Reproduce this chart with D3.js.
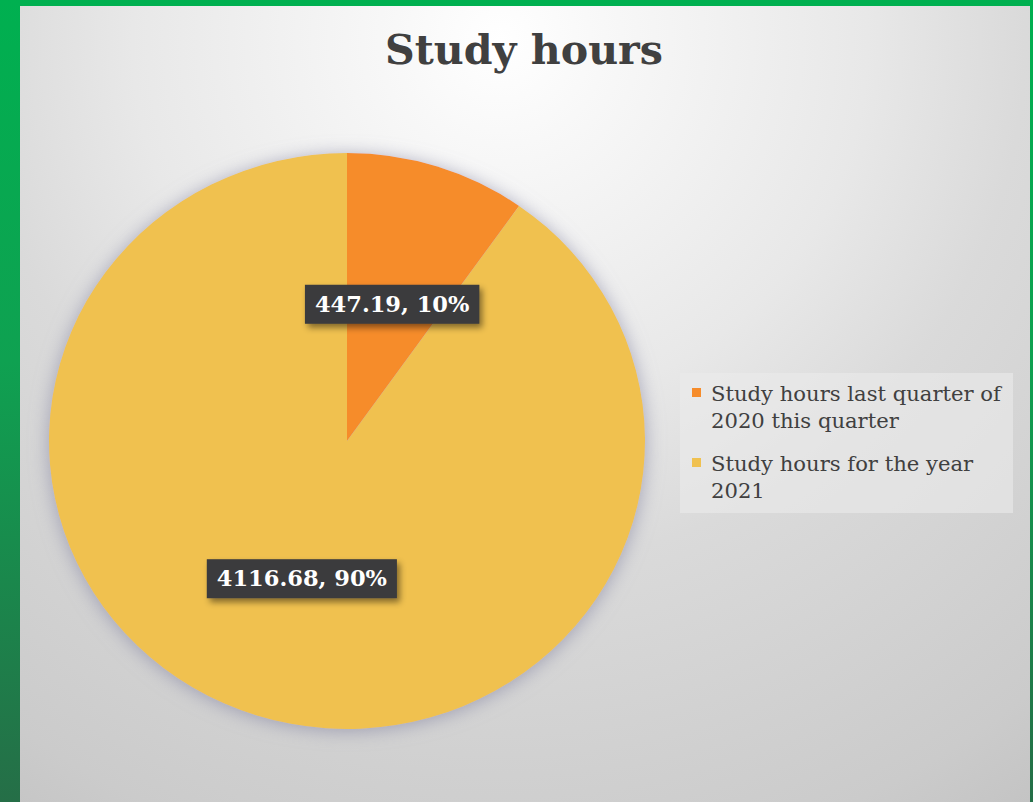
<!DOCTYPE html>
<html><head><meta charset="utf-8">
<script src="https://cdn.jsdelivr.net/npm/d3@7"></script>
<style>html,body{margin:0;padding:0;overflow:hidden;background:#fff}</style>
</head><body>
<script>
const title = "Study hours";
const categories = ["Study hours last quarter of 2020 this quarter", "Study hours for the year 2021"];
const legendLines = [["Study hours last quarter of", "2020 this quarter"], ["Study hours for the year", "2021"]];
const values = [447.19, 4116.68];
const colors = ["#F68C2B", "#F0C150"];

const W = 1033, H = 802;
const svg = d3.select("body").append("svg").attr("width", W).attr("height", H);
const defs = svg.append("defs");

const gL = defs.append("linearGradient").attr("id","greenV").attr("x1",0).attr("y1",0).attr("x2",0).attr("y2",1);
gL.append("stop").attr("offset",0).attr("stop-color","#00B050");
gL.append("stop").attr("offset",0.45).attr("stop-color","#0FA151");
gL.append("stop").attr("offset",1).attr("stop-color","#256E47");

const bg = defs.append("radialGradient").attr("id","bg").attr("gradientUnits","userSpaceOnUse")
  .attr("cx",500).attr("cy",40).attr("r",1050);
[[0,"#ffffff"],[0.1,"#f8f8f8"],[0.35,"#e8e8e8"],[0.5,"#dadada"],[0.8,"#cbcbcb"],[1,"#bababa"]]
  .forEach(([o,c]) => bg.append("stop").attr("offset",o).attr("stop-color",c));

const fPie = defs.append("filter").attr("id","pieShadow").attr("x","-20%").attr("y","-20%").attr("width","140%").attr("height","140%");
fPie.append("feDropShadow").attr("dx",0).attr("dy",2).attr("stdDeviation",9).attr("flood-color","#8f8fa8").attr("flood-opacity",0.75);
const fLab = defs.append("filter").attr("id","labShadow").attr("x","-20%").attr("y","-30%").attr("width","150%").attr("height","180%");
fLab.append("feDropShadow").attr("dx",3).attr("dy",4).attr("stdDeviation",3).attr("flood-color","#000").attr("flood-opacity",0.45);

svg.append("rect").attr("width",W).attr("height",H).attr("fill","url(#greenV)");
svg.append("rect").attr("x",20).attr("y",6).attr("width",1010).attr("height",H-6).attr("fill","url(#bg)");

svg.append("text").attr("x",524).attr("y",64).attr("text-anchor","middle")
  .attr("font-family","DejaVu Serif").attr("font-weight","bold").attr("font-size",35)
  .attr("fill","#404040").text(title)
  .each(function(){ const w=this.getComputedTextLength(); d3.select(this).attr("font-size",35*278/w); });

const cx = 347, cy = 441, rx = 298, ry = 288;
const R = ry;
const pie = d3.pie().sort(null).value(d => d)(values);
const arc = d3.arc().innerRadius(0).outerRadius(R);
const g = svg.append("g").attr("transform",`translate(${cx},${cy}) scale(${rx/ry},1)`);
g.append("g").attr("filter","url(#pieShadow)").selectAll("path").data(pie).join("path")
  .attr("d",arc).attr("fill",(d,i)=>colors[i]);

const total = d3.sum(values);
const labArc = d3.arc().innerRadius(0).outerRadius(R);
const fmtPct = d3.format(".0%");
const labels = svg.append("g");
pie.forEach((d,i) => {
  const [lx,ly] = labArc.centroid(d);
  const x = cx + lx*rx/ry, y = cy + ly;
  const lg = labels.append("g").attr("transform",`translate(${x},${y})`);
  const rect = lg.append("rect").attr("fill","#3b3b3d").attr("filter","url(#labShadow)");
  const t = lg.append("text").attr("text-anchor","middle").attr("dy","0.36em")
    .attr("font-family","DejaVu Serif").attr("font-weight","bold").attr("font-size",22.5)
    .attr("fill","#ffffff").text(`${values[i]}, ${fmtPct(values[i]/total)}`);
  const w = t.node().getComputedTextLength();
  rect.attr("x",-w/2-10).attr("y",-19).attr("width",w+20).attr("height",39);
});

const lgx = 680, lgy = 373;
svg.append("rect").attr("x",lgx).attr("y",lgy).attr("width",333).attr("height",140)
  .attr("fill","#ebebeb").attr("opacity",0.6);
let fs = 17.5;
legendLines.forEach((lines,i) => {
  const by = 401 + i*70;
  svg.append("rect").attr("x",692).attr("y",by-13).attr("width",9).attr("height",9).attr("fill",colors[i]);
  lines.forEach((ln,j) => {
    const t = svg.append("text").attr("class","leg").attr("x",711).attr("y",by + j*27)
      .attr("font-family","DejaVu Serif").attr("font-size",17.5).attr("fill","#404040").text(ln);
    if (i===0 && j===0) fs = 17.5*290/t.node().getComputedTextLength();
  });
});
svg.selectAll("text.leg").attr("font-size",fs);
</script>
</body></html>
